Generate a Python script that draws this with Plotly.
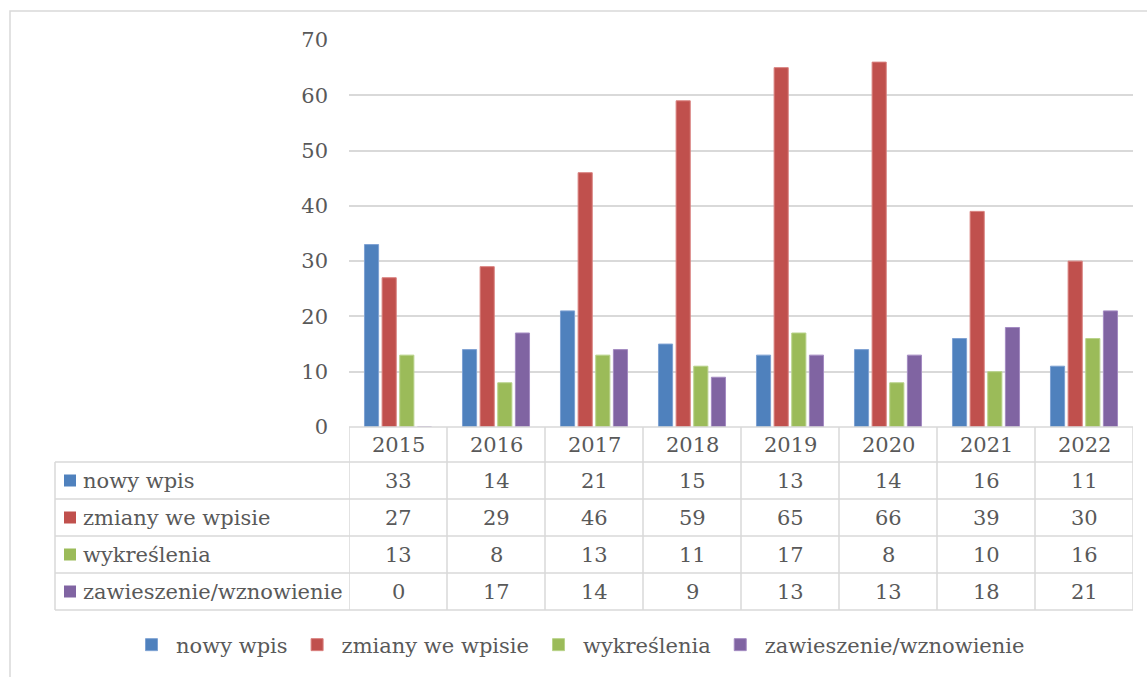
import plotly.graph_objects as go

years = ["2015", "2016", "2017", "2018", "2019", "2020", "2021", "2022"]
series_names = ["nowy wpis", "zmiany we wpisie", "wykreślenia", "zawieszenie/wznowienie"]
nowy_wpis = [33, 14, 21, 15, 13, 14, 16, 11]
zmiany_we_wpisie = [27, 29, 46, 59, 65, 66, 39, 30]
wykreslenia = [13, 8, 13, 11, 17, 8, 10, 16]
zawieszenie = [0, 17, 14, 9, 13, 13, 18, 21]
series_values = [nowy_wpis, zmiany_we_wpisie, wykreslenia, zawieszenie]
y_ticks = [0, 10, 20, 30, 40, 50, 60, 70]

colors = ["#4F81BD", "#C0504D", "#9BBB59", "#8064A2"]
edge_colors = ["#7EA2D3", "#D9807E", "#B8D38A", "#A48BC2"]
FONT = "DejaVu Serif"
FS = 21
TXT = "#595959"
GRID = "#D9D9D9"

# pixel geometry of the plot area
Wfig, Hfig = 1147, 677
L, R, T, B = 349, 1133, 40, 427
W, H = R - L, B - T


def PX(x):
    return (x - L) / W


def PY(y):
    return (B - y) / H


fig = go.Figure()
for name, vals, c, ec in zip(series_names, series_values, colors, edge_colors):
    fig.add_trace(go.Bar(x=years, y=vals, name=name, marker_color=c,
                         marker_line=dict(color=ec, width=1)))

shapes = []
annotations = []
line = dict(color=GRID, width=1.5)

# table geometry (pixels)
header_top = 427
row_edges = [462, 499, 536, 573, 610]
left_col = 55
n = len(years)

# horizontal lines
shapes.append(dict(type="line", xref="paper", yref="paper", x0=0, x1=1,
                   y0=PY(header_top), y1=PY(header_top), line=line))
for ye in row_edges:
    shapes.append(dict(type="line", xref="paper", yref="paper", x0=PX(left_col), x1=1,
                       y0=PY(ye), y1=PY(ye), line=line))
# vertical lines
shapes.append(dict(type="line", xref="paper", yref="paper", x0=PX(left_col), x1=PX(left_col),
                   y0=PY(row_edges[0]), y1=PY(row_edges[-1]), line=line))
for i in range(n + 1):
    shapes.append(dict(type="line", xref="x", yref="paper", x0=i - 0.5, x1=i - 0.5,
                       y0=PY(header_top), y1=PY(row_edges[-1]), line=line))

# year header
for i, yr in enumerate(years):
    annotations.append(dict(x=i, xref="x", yref="paper", y=PY((header_top + row_edges[0]) / 2),
                            text=yr, showarrow=False, xanchor="center", yanchor="middle",
                            font=dict(family=FONT, size=FS, color=TXT)))

# rows
for r, (name, vals, c) in enumerate(zip(series_names, series_values, colors)):
    yc = (row_edges[r] + row_edges[r + 1]) / 2
    shapes.append(dict(type="rect", xref="paper", yref="paper", x0=PX(64), x1=PX(76),
                       y0=PY(yc - 6), y1=PY(yc + 6), fillcolor=c, line=dict(width=0)))
    annotations.append(dict(x=PX(81), xref="paper", yref="paper", y=PY(yc), text=name,
                            showarrow=False, xanchor="left", yanchor="middle",
                            font=dict(family=FONT, size=FS, color=TXT)))
    for i, v in enumerate(vals):
        annotations.append(dict(x=i, xref="x", yref="paper", y=PY(yc), text=str(v),
                                showarrow=False, xanchor="center", yanchor="middle",
                                font=dict(family=FONT, size=FS, color=TXT)))

# outer chart border
shapes.append(dict(type="rect", xref="paper", yref="paper", x0=PX(10), x1=PX(1160),
                   y0=PY(11), y1=PY(700), line=line, fillcolor="rgba(0,0,0,0)"))

fig.update_layout(
    width=Wfig, height=Hfig,
    margin=dict(l=L, r=Wfig - R, t=T, b=Hfig - B, autoexpand=False),
    paper_bgcolor="white", plot_bgcolor="white",
    barmode="group", bargap=0.28, bargroupgap=0.2,
    font=dict(family=FONT, size=FS, color=TXT),
    xaxis=dict(type="category", range=[-0.5, n - 0.5], autorange=False,
               showticklabels=False, showgrid=False, zeroline=False,
               showline=False, ticks=""),
    yaxis=dict(range=[0, 70], tickvals=y_ticks, showgrid=True, gridcolor=GRID, gridwidth=1.5,
               zeroline=False, showline=False, ticks="", ticklabelstandoff=20,
               tickfont=dict(family=FONT, size=FS, color=TXT)),
    showlegend=True,
    legend=dict(orientation="h", x=PX(127), xanchor="left", y=PY(645), yanchor="middle",
                itemwidth=39,
                font=dict(family=FONT, size=FS, color=TXT), bgcolor="rgba(0,0,0,0)",
                traceorder="normal"),
    shapes=shapes, annotations=annotations,
)

fig.write_html("out.html", config={"displayModeBar": False},
               post_script="document.body.style.margin='0';")
